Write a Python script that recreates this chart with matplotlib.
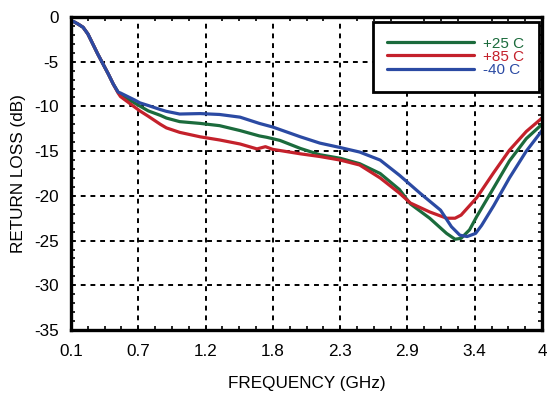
import matplotlib
matplotlib.use("Agg")
import matplotlib.pyplot as plt
import numpy as np
from matplotlib.ticker import FixedLocator, AutoMinorLocator, MultipleLocator

plt.rcParams['font.family'] = ['Liberation Sans', 'DejaVu Sans']

# Return loss vs frequency at three temperatures
freq_25 = [0.12, 0.16, 0.20, 0.24, 0.28, 0.32, 0.365, 0.41, 0.45, 0.49, 0.51, 0.63, 0.74, 0.84, 0.89,
           1.00, 1.17, 1.33, 1.50, 1.66, 1.72, 1.83, 2.00, 2.16, 2.33, 2.49, 2.66, 2.82, 2.91,
           3.07, 3.21, 3.28, 3.33, 3.40, 3.46, 3.53, 3.60, 3.73, 3.87, 4.00]
rl_25 = [-0.5, -0.8, -1.15, -1.9, -3.0, -4.1, -5.25, -6.4, -7.5, -8.4, -8.7, -9.65, -10.5, -11.0, -11.3,
         -11.7, -11.9, -12.15, -12.7, -13.3, -13.45, -13.8, -14.7, -15.4, -15.8, -16.4, -17.5, -19.3, -20.9,
         -22.5, -24.2, -24.85, -24.75, -23.8, -22.3, -20.7, -19.1, -16.1, -13.6, -12.0]

freq_85 = [0.12, 0.16, 0.20, 0.24, 0.28, 0.32, 0.365, 0.41, 0.45, 0.49, 0.51, 0.63, 0.67, 0.74, 0.84,
           0.89, 1.00, 1.17, 1.33, 1.50, 1.64, 1.71, 1.77, 2.00, 2.16, 2.33, 2.49, 2.66, 2.82,
           2.91, 3.07, 3.21, 3.28, 3.33, 3.46, 3.60, 3.73, 3.87, 4.00]
rl_85 = [-0.5, -0.8, -1.15, -1.9, -3.0, -4.1, -5.25, -6.4, -7.5, -8.5, -8.9, -10.1, -10.5, -11.1, -12.0,
         -12.4, -12.9, -13.4, -13.75, -14.2, -14.75, -14.5, -14.8, -15.3, -15.6, -16.0, -16.55, -18.0, -19.7,
         -20.8, -21.8, -22.5, -22.5, -22.15, -20.2, -17.4, -14.9, -12.8, -11.3]

freq_m40 = [0.12, 0.16, 0.20, 0.24, 0.28, 0.32, 0.365, 0.41, 0.45, 0.49, 0.51, 0.63, 0.67, 0.74, 0.84,
            0.89, 1.00, 1.17, 1.33, 1.50, 1.66, 1.77, 2.00, 2.16, 2.33, 2.49, 2.66, 2.82, 2.99,
            3.16, 3.25, 3.32, 3.38, 3.45, 3.50, 3.55, 3.60, 3.73, 3.87, 4.00]
rl_m40 = [-0.5, -0.8, -1.15, -1.9, -3.0, -4.1, -5.25, -6.4, -7.5, -8.4, -8.5, -9.3, -9.6, -9.9, -10.35,
          -10.55, -10.85, -10.8, -10.9, -11.2, -11.9, -12.3, -13.4, -14.1, -14.6, -15.1, -16.0, -17.7, -19.7,
          -21.6, -23.45, -24.4, -24.55, -24.2, -23.3, -22.2, -21.1, -18.0, -15.0, -12.7]

series_labels = ['+25 C', '+85 C', '-40 C']
series_colors = ['#1b6b3c', '#c4212b', '#2b4aa3']

x_ticks = np.linspace(0.1, 4.0, 8)
x_tick_labels = ['0.1', '0.7', '1.2', '1.8', '2.3', '2.9', '3.4', '4']
y_min, y_max = -35, 0

fig = plt.figure(figsize=(5.48, 3.93), dpi=100)
ax = fig.add_axes([71 / 548, 63 / 393, 471 / 548, 313 / 393])

for fx, ry, lab, col in zip([freq_25, freq_85, freq_m40], [rl_25, rl_85, rl_m40],
                            series_labels, series_colors):
    ax.plot(fx, ry, color=col, lw=2.3, label=lab, solid_capstyle='round', solid_joinstyle='round')

ax.set_xlim(0.1, 4.0)
ax.set_ylim(y_min, y_max)
ax.xaxis.set_major_locator(FixedLocator(x_ticks))
ax.set_xticklabels(x_tick_labels)
ax.xaxis.set_minor_locator(AutoMinorLocator(4))
ax.yaxis.set_major_locator(MultipleLocator(5))
ax.yaxis.set_minor_locator(MultipleLocator(1))
ax.set_yticklabels([str(int(v)) for v in ax.get_yticks()])

ax.grid(True, which='major', color='black', linestyle=(0, (2.5, 2.5)), lw=1.4)
ax.tick_params(which='both', direction='in', top=True, right=True, color='black')
ax.tick_params(which='major', length=0, labelsize=12.3)
ax.tick_params(axis='x', which='major', pad=10)
ax.tick_params(axis='y', which='major', pad=9)
ax.tick_params(which='minor', length=3.2, width=1.2)
for sp in ax.spines.values():
    sp.set_linewidth(2.4)

ax.set_xlabel('FREQUENCY (GHz)', fontsize=12.3, labelpad=12)
ax.set_ylabel('RETURN LOSS (dB)', fontsize=12.3, labelpad=6)

leg = ax.legend(loc='upper right', bbox_to_anchor=(539 / 548, 1 - 22 / 393),
                bbox_transform=fig.transFigure, borderaxespad=0, borderpad=0.95,
                handlelength=5.7, handletextpad=0.6, labelspacing=-0.05, fontsize=11,
                fancybox=False, framealpha=1, edgecolor='black', labelcolor='linecolor')
leg.get_frame().set_linewidth(2)

fig.savefig('out.png', dpi=100)
